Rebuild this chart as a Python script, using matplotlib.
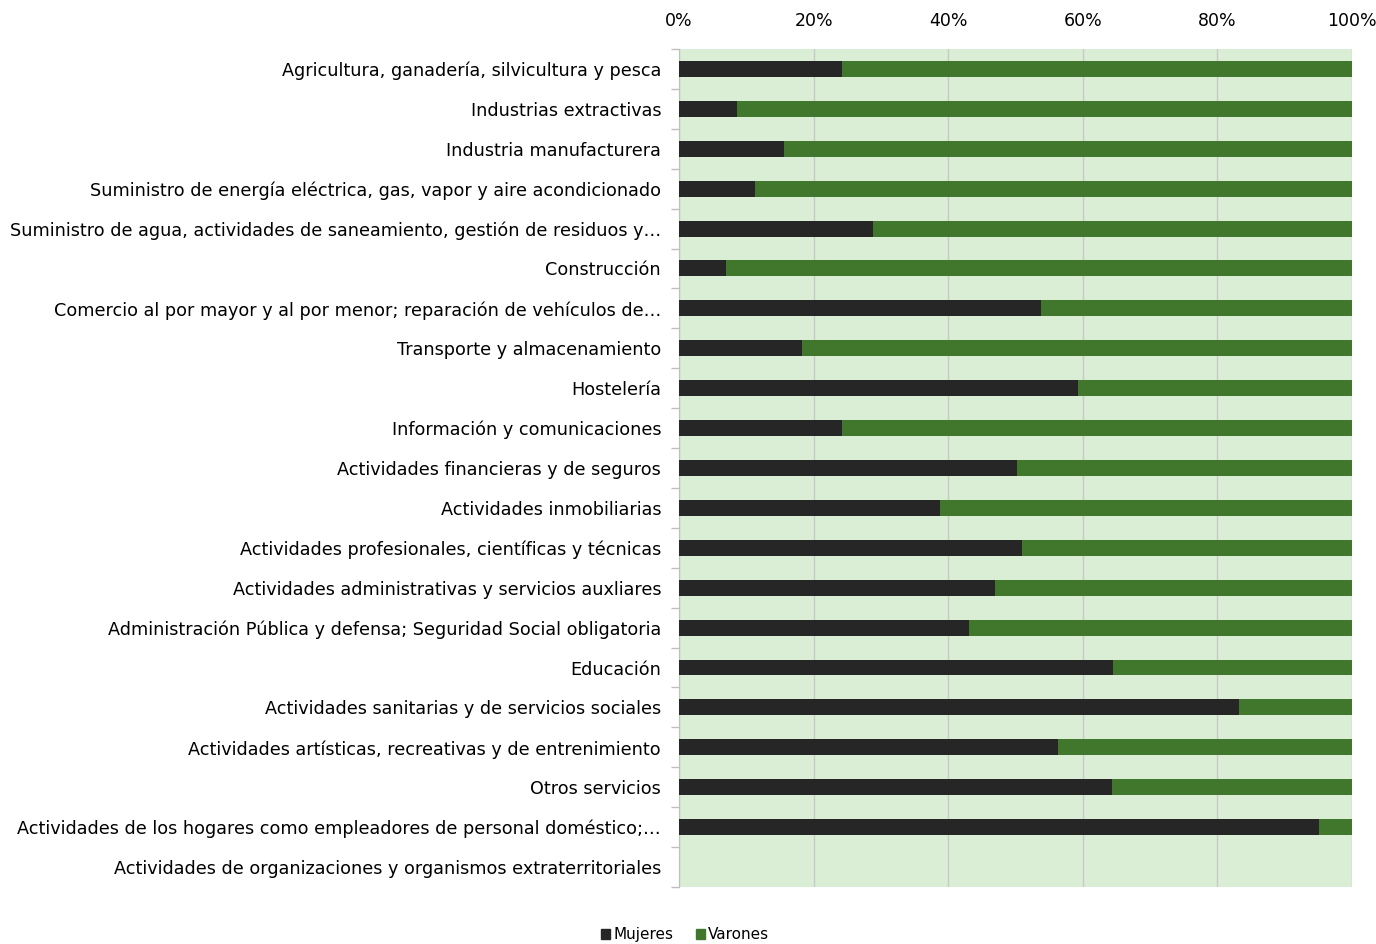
import matplotlib.pyplot as plt
from matplotlib.patches import Patch
import numpy as np

categories = [
    "Agricultura, ganadería, silvicultura y pesca",
    "Industrias extractivas",
    "Industria manufacturera",
    "Suministro de energía eléctrica, gas, vapor y aire acondicionado",
    "Suministro de agua, actividades de saneamiento, gestión de residuos y…",
    "Construcción",
    "Comercio al por mayor y al por menor; reparación de vehículos de…",
    "Transporte y almacenamiento",
    "Hostelería",
    "Información y comunicaciones",
    "Actividades financieras y de seguros",
    "Actividades inmobiliarias",
    "Actividades profesionales, científicas y técnicas",
    "Actividades administrativas y servicios auxliares",
    "Administración Pública y defensa; Seguridad Social obligatoria",
    "Educación",
    "Actividades sanitarias y de servicios sociales",
    "Actividades artísticas, recreativas y de entrenimiento",
    "Otros servicios",
    "Actividades de los hogares como empleadores de personal doméstico;…",
    "Actividades de organizaciones y organismos extraterritoriales",
]
mujeres = [24.2, 8.6, 15.6, 11.3, 28.8, 7.0, 53.8, 18.3, 59.3, 24.2, 50.2,
           38.8, 51.0, 47.0, 43.1, 64.5, 83.2, 56.3, 64.3, 95.1, 0.0]
varones = [0.0 if m == 0 else 100 - m for m in mujeres]
xticks = [0, 20, 40, 60, 80, 100]
xtick_labels = ["0%", "20%", "40%", "60%", "80%", "100%"]

c_muj = "#262626"
c_var = "#41772c"
c_bg = "#daeed5"

plt.rcParams["font.family"] = ["DejaVu Sans"]

fig = plt.figure(figsize=(13.76, 9.44), dpi=100)
ax = fig.add_axes([0.4935, 0.0604, 0.4891, 0.8877])
ax.set_facecolor(c_bg)

y = np.arange(len(categories))
ax.barh(y, mujeres, height=0.4, color=c_muj, zorder=3)
ax.barh(y, varones, left=mujeres, height=0.4, color=c_var, zorder=3)

ax.set_xlim(0, 100)
ax.set_ylim(len(categories) - 0.5, -0.5)
ax.set_xticks(xticks)
ax.set_xticklabels(xtick_labels)
ax.xaxis.tick_top()
ax.tick_params(axis="x", length=0, pad=14, labelsize=12.5, colors="#000000")
ax.grid(axis="x", color="#c8c8c8", linewidth=1, zorder=1)

ax.set_yticks(y)
ax.set_yticklabels(categories)
ax.set_yticks(np.arange(len(categories) + 1) - 0.5, minor=True)
ax.tick_params(axis="y", which="major", length=0, pad=13, labelsize=12.7)
ax.tick_params(axis="y", which="minor", length=6, color="#bfbfbf", width=1)

for s in ["top", "right", "bottom"]:
    ax.spines[s].set_visible(False)
ax.spines["left"].set_color("#bfbfbf")

handles = [Patch(color=c_muj, label="Mujeres"), Patch(color=c_var, label="Varones")]
fig.legend(handles=handles, loc="center", bbox_to_anchor=(0.498, 0.010), ncol=2,
           frameon=False, fontsize=11, handlelength=0.6, handleheight=0.6,
           handletextpad=0.2, columnspacing=1.5)

fig.savefig("out.png", dpi=100)
